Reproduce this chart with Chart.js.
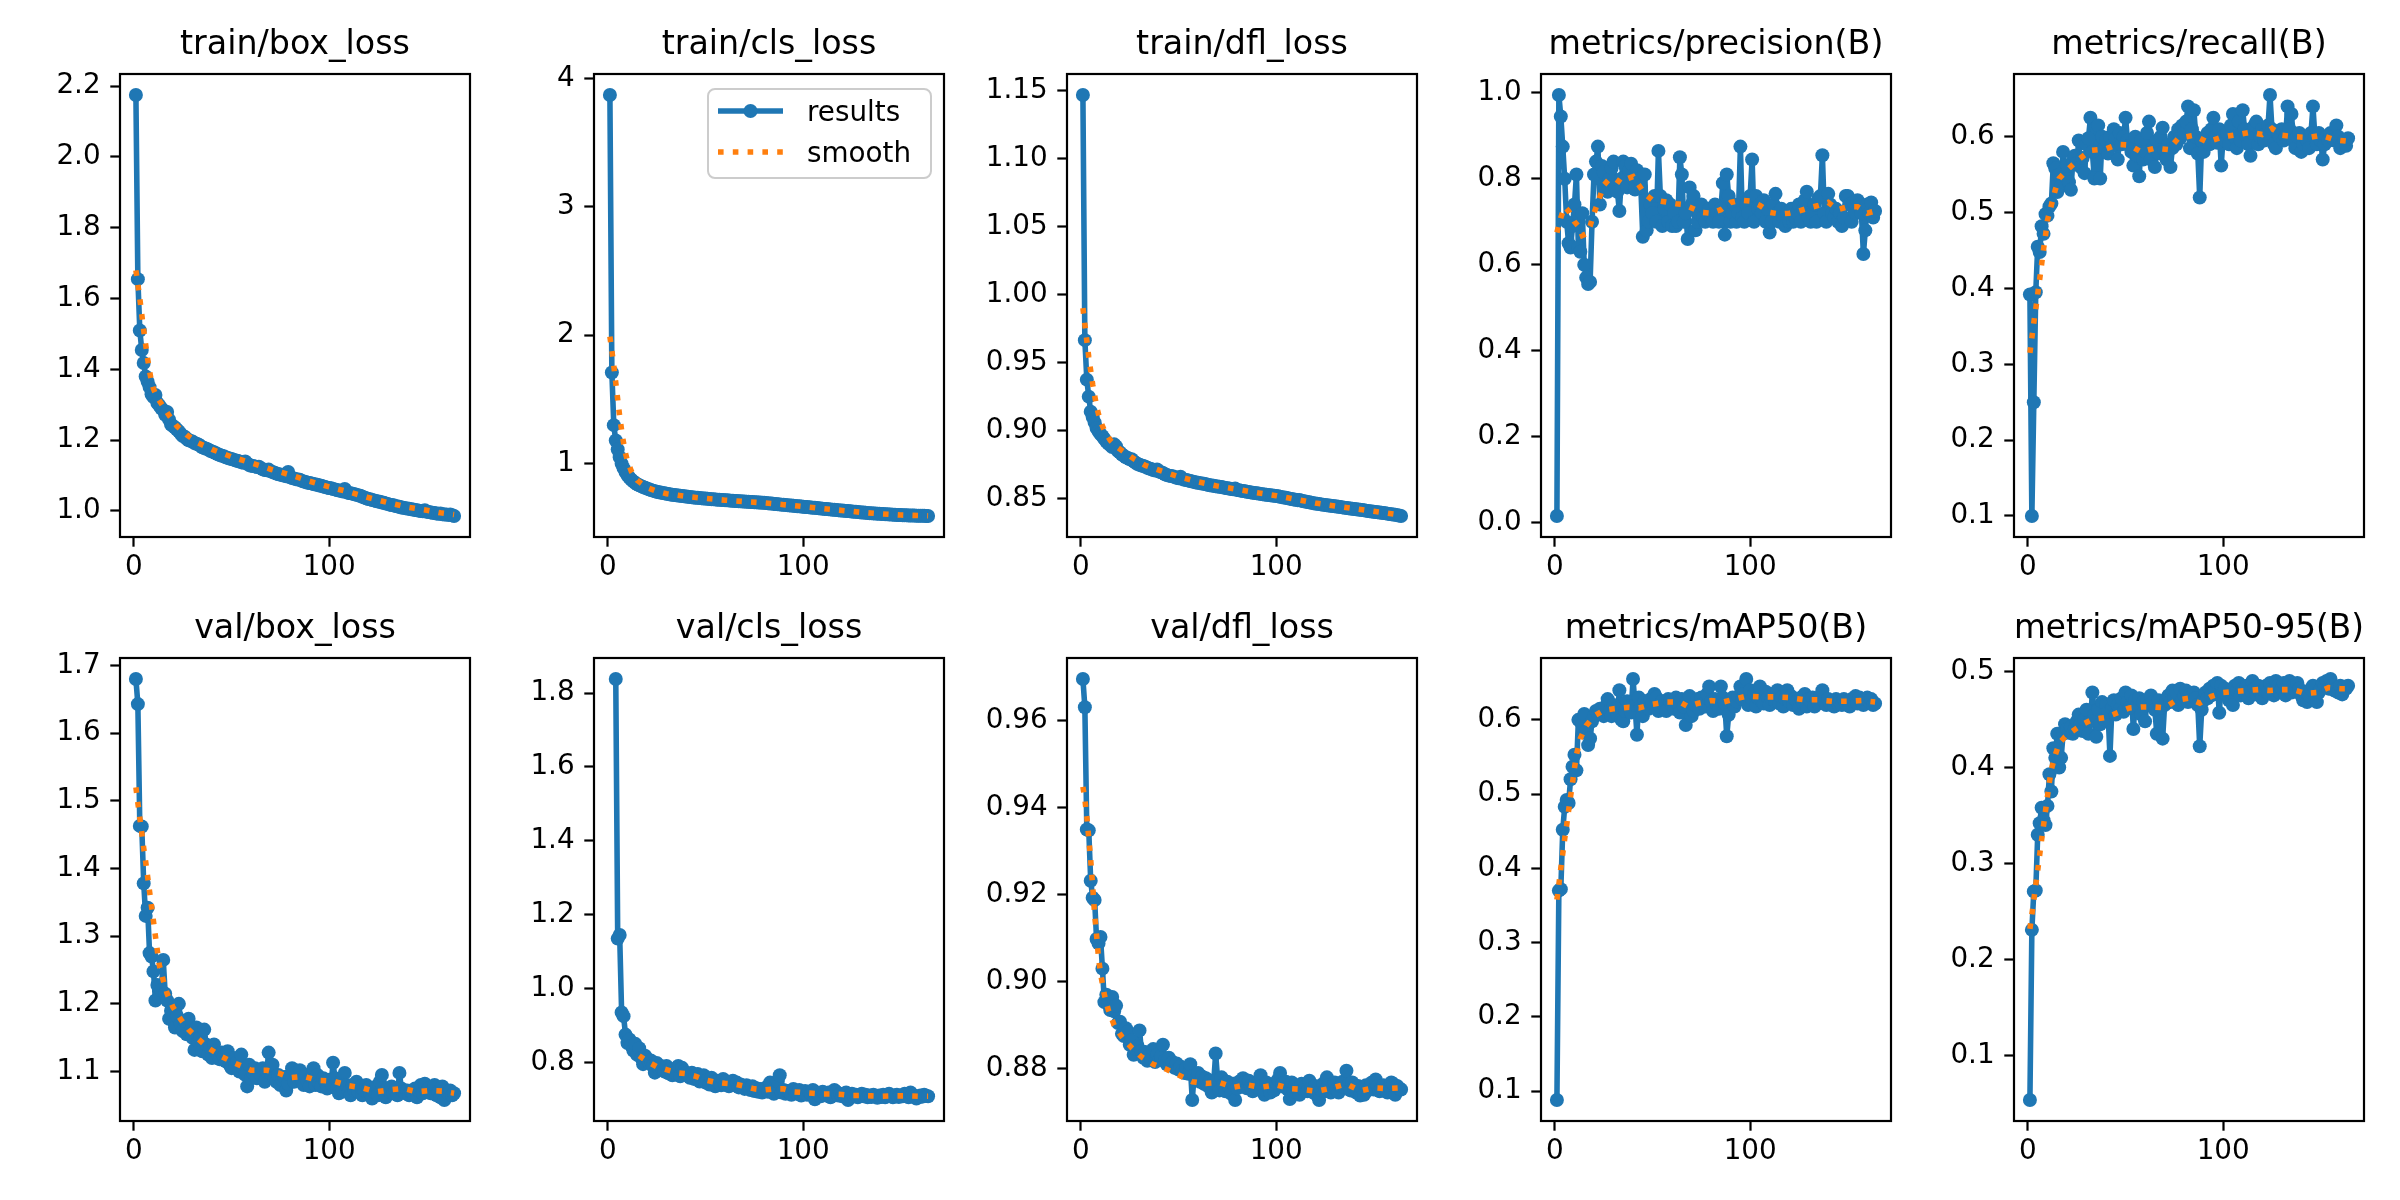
<!DOCTYPE html>
<html>
<head>
<meta charset="utf-8">
<script src="https://cdn.jsdelivr.net/npm/chart.js@4.4.1/dist/chart.umd.min.js"></script>
<style>
  body { margin: 0; background: #fff; width: 2400px; height: 1200px; position: relative; overflow: hidden; }
  canvas { position: absolute; }
  #legend {
    position: absolute; left: 707px; top: 88px; width: 225px; height: 91px; box-sizing: border-box;
    border: 2px solid #ccc; border-radius: 8px; background: rgba(255,255,255,0.8); z-index: 5;
    font-family: 'DejaVu Sans', sans-serif; font-size: 27.8px; color: #000;
  }
  #legend .row { position: absolute; left: 9px; height: 40px; display: flex; align-items: center; }
  #legend .row span { margin-left: 24px; }
</style>
</head>
<body>
<div id="legend">
  <div class="row" style="top:1px"><svg width="65" height="20"><line x1="0" y1="10" x2="65" y2="10" stroke="#1f77b4" stroke-width="5.6"/><circle cx="32.5" cy="10" r="7" fill="#1f77b4"/></svg><span>results</span></div>
  <div class="row" style="top:42px"><svg width="65" height="20"><line x1="0" y1="10" x2="65" y2="10" stroke="#ff7f0e" stroke-width="5.6" stroke-dasharray="5.6 9.2"/></svg><span>smooth</span></div>
</div>
<script>
// epochs 1..164, one value per epoch
const trainBox = [2.175,1.655,1.510,1.455,1.418,1.380,1.365,1.350,1.330,1.322,
  1.328,1.305,1.298,1.290,1.285,1.272,1.280,1.258,1.244,1.240,
  1.236,1.230,1.225,1.218,1.212,1.210,1.204,1.200,1.198,1.196,
  1.192,1.190,1.188,1.184,1.180,1.178,1.176,1.174,1.170,1.168,
  1.166,1.163,1.160,1.158,1.156,1.155,1.152,1.150,1.148,1.147,
  1.145,1.143,1.142,1.140,1.138,1.136,1.140,1.134,1.130,1.128,
  1.127,1.126,1.124,1.125,1.121,1.118,1.116,1.115,1.117,1.112,
  1.110,1.108,1.106,1.104,1.103,1.101,1.100,1.098,1.110,1.095,
  1.093,1.092,1.090,1.089,1.088,1.085,1.083,1.082,1.080,1.079,
  1.078,1.076,1.075,1.074,1.072,1.071,1.069,1.068,1.066,1.065,
  1.064,1.062,1.061,1.059,1.058,1.057,1.055,1.062,1.053,1.051,
  1.050,1.049,1.047,1.046,1.044,1.043,1.040,1.038,1.036,1.034,
  1.033,1.031,1.030,1.028,1.027,1.026,1.024,1.023,1.021,1.020,
  1.018,1.017,1.016,1.014,1.013,1.012,1.010,1.009,1.008,1.007,
  1.006,1.005,1.004,1.003,1.002,1.001,1.000,0.999,1.002,0.998,
  0.997,0.996,0.995,0.994,0.993,0.992,0.993,0.991,0.990,0.990,
  0.989,0.990,0.988,0.986];
const trainBoxSmooth = [[1,1.68],[2,1.64],[3,1.60],[4,1.555],[5,1.51],[6,1.47],[7,1.43],[8,1.395],[9,1.365],[10,1.345],
  [12,1.32],[15,1.295],[18,1.27],[22,1.24],[27,1.215],[33,1.192],[40,1.174],[50,1.153],[60,1.136],[70,1.118],
  [80,1.102],[90,1.084],[100,1.068],[110,1.054],[120,1.038],[130,1.024],[140,1.011],[150,1.002],[157,0.995],[164,0.990]];
const trainBoxTicks = ['1.0','1.2','1.4','1.6','1.8','2.0','2.2'];

const trainCls = [3.870,1.710,1.300,1.180,1.110,1.050,1.000,0.965,0.935,0.910,
  0.890,0.875,0.862,0.850,0.840,0.832,0.825,0.818,0.812,0.806,
  0.800,0.795,0.790,0.786,0.782,0.778,0.775,0.772,0.769,0.766,
  0.763,0.760,0.758,0.756,0.754,0.752,0.750,0.748,0.746,0.744,
  0.742,0.740,0.739,0.737,0.735,0.734,0.732,0.731,0.729,0.728,
  0.727,0.725,0.724,0.723,0.722,0.720,0.719,0.718,0.717,0.716,
  0.715,0.714,0.712,0.711,0.710,0.709,0.708,0.707,0.706,0.705,
  0.704,0.703,0.702,0.701,0.700,0.699,0.698,0.697,0.696,0.695,
  0.693,0.692,0.690,0.689,0.687,0.686,0.684,0.683,0.681,0.680,
  0.678,0.677,0.675,0.674,0.672,0.671,0.669,0.668,0.666,0.665,
  0.663,0.662,0.660,0.659,0.657,0.656,0.654,0.653,0.651,0.650,
  0.648,0.647,0.645,0.644,0.642,0.641,0.639,0.638,0.636,0.635,
  0.634,0.632,0.631,0.629,0.628,0.626,0.625,0.623,0.622,0.620,
  0.619,0.618,0.616,0.615,0.614,0.613,0.612,0.611,0.610,0.609,
  0.608,0.607,0.606,0.605,0.604,0.603,0.602,0.601,0.600,0.600,
  0.599,0.598,0.598,0.597,0.597,0.596,0.596,0.595,0.595,0.594,
  0.594,0.594,0.593,0.593];
const trainClsSmooth = [[1,1.99],[2,1.88],[3,1.76],[4,1.63],[5,1.50],[6,1.37],[7,1.26],[8,1.16],[9,1.08],[10,1.02],
  [12,0.94],[15,0.87],[20,0.815],[25,0.785],[30,0.766],[40,0.745],[50,0.729],[60,0.716],[70,0.705],[80,0.695],
  [90,0.681],[100,0.666],[110,0.651],[120,0.636],[130,0.621],[140,0.609],[150,0.600],[164,0.594]];
const trainClsTicks = ['1','2','3','4'];

const trainDfl = [1.1465,0.9665,0.9375,0.9250,0.9140,0.9100,0.9060,0.9020,0.8995,0.8975,
  0.8960,0.8940,0.8920,0.8905,0.8895,0.8880,0.8900,0.8885,0.8850,0.8840,
  0.8825,0.8815,0.8805,0.8800,0.8790,0.8790,0.8775,0.8765,0.8755,0.8750,
  0.8745,0.8740,0.8735,0.8728,0.8722,0.8718,0.8712,0.8708,0.8715,0.8700,
  0.8695,0.8690,0.8680,0.8675,0.8670,0.8668,0.8665,0.8660,0.8655,0.8650,
  0.8662,0.8645,0.8640,0.8638,0.8634,0.8630,0.8627,0.8624,0.8620,0.8618,
  0.8615,0.8612,0.8610,0.8606,0.8603,0.8600,0.8598,0.8595,0.8592,0.8590,
  0.8588,0.8586,0.8583,0.8580,0.8578,0.8575,0.8572,0.8570,0.8575,0.8565,
  0.8562,0.8560,0.8557,0.8555,0.8552,0.8550,0.8547,0.8545,0.8542,0.8540,
  0.8538,0.8536,0.8534,0.8532,0.8530,0.8528,0.8526,0.8524,0.8522,0.8520,
  0.8518,0.8515,0.8512,0.8510,0.8507,0.8504,0.8501,0.8498,0.8495,0.8493,
  0.8490,0.8492,0.8485,0.8482,0.8480,0.8477,0.8474,0.8471,0.8468,0.8466,
  0.8463,0.8461,0.8459,0.8457,0.8455,0.8453,0.8451,0.8449,0.8447,0.8445,
  0.8443,0.8441,0.8439,0.8437,0.8435,0.8433,0.8431,0.8429,0.8427,0.8425,
  0.8423,0.8421,0.8419,0.8417,0.8415,0.8413,0.8411,0.8409,0.8407,0.8405,
  0.8403,0.8401,0.8399,0.8397,0.8395,0.8393,0.8391,0.8389,0.8387,0.8385,
  0.8382,0.8380,0.8377,0.8374];
const trainDflSmooth = [[1,0.990],[2,0.978],[3,0.966],[4,0.954],[5,0.944],[6,0.934],[7,0.926],[8,0.918],[9,0.912],[10,0.907],
  [12,0.900],[15,0.893],[18,0.8885],[22,0.8845],[27,0.8795],[33,0.8745],[40,0.8710],[50,0.8663],[60,0.8625],[70,0.8593],
  [80,0.8570],[90,0.8545],[100,0.8523],[110,0.8496],[120,0.8469],[130,0.8448],[140,0.8428],[150,0.8408],[160,0.8388],[164,0.8380]];
const trainDflTicks = ['0.85','0.90','0.95','1.00','1.05','1.10','1.15'];

const precision = [0.015,0.995,0.945,0.875,0.800,0.700,0.650,0.640,0.690,0.740,
  0.810,0.640,0.630,0.720,0.600,0.570,0.555,0.560,0.700,0.810,
  0.840,0.875,0.740,0.830,0.815,0.780,0.770,0.800,0.825,0.840,
  0.780,0.770,0.725,0.800,0.840,0.830,0.780,0.820,0.835,0.800,
  0.775,0.820,0.800,0.780,0.665,0.810,0.680,0.700,0.740,0.720,
  0.760,0.700,0.865,0.760,0.690,0.730,0.750,0.700,0.740,0.690,
  0.720,0.690,0.700,0.850,0.810,0.700,0.720,0.660,0.780,0.740,
  0.760,0.680,0.700,0.720,0.740,0.710,0.700,0.720,0.730,0.710,
  0.700,0.740,0.720,0.700,0.730,0.790,0.670,0.810,0.760,0.700,
  0.720,0.740,0.700,0.720,0.875,0.710,0.700,0.740,0.720,0.760,
  0.845,0.700,0.760,0.730,0.740,0.720,0.750,0.700,0.730,0.675,
  0.700,0.740,0.765,0.720,0.700,0.730,0.710,0.690,0.720,0.700,
  0.730,0.700,0.710,0.720,0.740,0.700,0.730,0.750,0.770,0.710,
  0.700,0.720,0.740,0.700,0.755,0.760,0.855,0.720,0.700,0.765,
  0.740,0.720,0.710,0.730,0.700,0.720,0.690,0.710,0.760,0.760,
  0.740,0.700,0.745,0.720,0.750,0.740,0.720,0.625,0.680,0.740,
  0.720,0.745,0.710,0.725];
const precisionSmooth = [[1,0.675],[3,0.710],[5,0.735],[7,0.725],[10,0.700],[12,0.690],[14,0.668],[16,0.672],[18,0.690],[20,0.720],
  [22,0.745],[25,0.785],[28,0.800],[31,0.800],[34,0.790],[37,0.800],[40,0.805],[43,0.785],[46,0.765],[50,0.750],
  [54,0.748],[58,0.745],[62,0.742],[66,0.740],[70,0.732],[75,0.722],[80,0.720],[85,0.728],[90,0.745],[95,0.750],
  [100,0.748],[105,0.738],[110,0.722],[115,0.718],[120,0.720],[125,0.725],[130,0.732],[135,0.738],[140,0.745],[145,0.728],
  [150,0.735],[155,0.735],[160,0.720],[164,0.725]];
const precisionTicks = ['0.0','0.2','0.4','0.6','0.8','1.0'];

const recall = [0.392,0.100,0.250,0.395,0.455,0.448,0.482,0.472,0.498,0.496,
  0.508,0.512,0.565,0.558,0.527,0.550,0.535,0.580,0.548,0.562,
  0.540,0.530,0.568,0.575,0.565,0.595,0.560,0.572,0.552,0.590,
  0.598,0.625,0.580,0.545,0.612,0.615,0.545,0.600,0.585,0.595,
  0.578,0.600,0.588,0.610,0.598,0.570,0.605,0.590,0.600,0.625,
  0.595,0.588,0.580,0.562,0.600,0.575,0.548,0.595,0.570,0.580,
  0.605,0.620,0.570,0.585,0.560,0.595,0.578,0.600,0.612,0.582,
  0.570,0.590,0.560,0.585,0.600,0.590,0.610,0.598,0.615,0.605,
  0.620,0.640,0.585,0.610,0.635,0.600,0.578,0.520,0.595,0.580,
  0.600,0.605,0.590,0.610,0.625,0.600,0.592,0.610,0.562,0.600,
  0.595,0.605,0.590,0.615,0.630,0.600,0.585,0.620,0.595,0.635,
  0.610,0.600,0.590,0.575,0.605,0.615,0.620,0.590,0.600,0.610,
  0.595,0.605,0.615,0.655,0.610,0.590,0.585,0.605,0.600,0.610,
  0.595,0.600,0.640,0.610,0.630,0.595,0.585,0.600,0.605,0.580,
  0.590,0.600,0.595,0.585,0.605,0.640,0.600,0.590,0.605,0.595,
  0.570,0.590,0.600,0.595,0.605,0.600,0.595,0.615,0.600,0.585,
  0.590,0.595,0.588,0.598];
const recallSmooth = [[1,0.315],[2,0.335],[3,0.355],[4,0.373],[5,0.393],[6,0.412],[7,0.432],[8,0.452],[9,0.470],[10,0.490],
  [12,0.510],[14,0.530],[16,0.545],[20,0.556],[25,0.568],[32,0.582],[40,0.584],[46,0.590],[52,0.589],[58,0.580],
  [65,0.585],[72,0.583],[77,0.598],[85,0.602],[92,0.593],[100,0.600],[108,0.603],[114,0.606],[120,0.603],[125,0.611],
  [130,0.602],[137,0.600],[144,0.599],[150,0.602],[157,0.596],[164,0.594]];
const recallTicks = ['0.1','0.2','0.3','0.4','0.5','0.6'];

const valBox = [1.680,1.643,1.463,1.462,1.378,1.330,1.342,1.275,1.270,1.248,
  1.205,1.228,1.210,1.220,1.265,1.215,1.205,1.178,1.190,1.175,
  1.165,1.182,1.200,1.170,1.160,1.175,1.155,1.178,1.160,1.150,
  1.132,1.165,1.145,1.150,1.130,1.162,1.140,1.125,1.135,1.120,
  1.140,1.130,1.125,1.118,1.128,1.122,1.115,1.130,1.110,1.105,
  1.120,1.108,1.115,1.100,1.125,1.105,1.095,1.078,1.110,1.090,
  1.098,1.105,1.090,1.100,1.095,1.105,1.085,1.100,1.128,1.098,
  1.110,1.090,1.085,1.095,1.080,1.088,1.092,1.072,1.082,1.095,
  1.105,1.085,1.098,1.090,1.102,1.088,1.080,1.095,1.085,1.078,
  1.092,1.105,1.080,1.095,1.082,1.078,1.090,1.085,1.075,1.088,
  1.082,1.113,1.090,1.075,1.068,1.085,1.072,1.098,1.080,1.070,
  1.065,1.080,1.072,1.085,1.070,1.078,1.065,1.072,1.080,1.075,
  1.068,1.060,1.070,1.078,1.065,1.085,1.095,1.070,1.062,1.075,
  1.070,1.078,1.068,1.072,1.065,1.098,1.075,1.070,1.068,1.072,
  1.065,1.070,1.068,1.075,1.062,1.072,1.080,1.068,1.082,1.070,
  1.075,1.068,1.072,1.080,1.065,1.070,1.062,1.078,1.058,1.072,
  1.068,1.072,1.065,1.068];
const valBoxSmooth = [[1,1.520],[2,1.497],[3,1.475],[4,1.453],[5,1.430],[6,1.410],[7,1.388],[8,1.366],[9,1.344],[10,1.322],
  [11,1.300],[12,1.278],[13,1.257],[15,1.235],[17,1.215],[20,1.195],[24,1.177],[28,1.162],[33,1.148],[38,1.135],
  [45,1.122],[52,1.112],[60,1.102],[68,1.102],[74,1.098],[80,1.091],[87,1.093],[94,1.087],[102,1.086],[110,1.079],
  [117,1.076],[124,1.070],[131,1.073],[138,1.075],[145,1.070],[152,1.072],[158,1.071],[164,1.068]];
const valBoxTicks = ['1.1','1.2','1.3','1.4','1.5','1.6','1.7'];

const valCls = [null,null,null,1.838,1.135,1.145,0.935,0.925,0.875,0.852,
  0.862,0.845,0.832,0.850,0.820,0.838,0.812,0.795,0.818,0.810,
  0.800,0.805,0.790,0.772,0.798,0.785,0.790,0.780,0.775,0.790,
  0.770,0.782,0.765,0.775,0.768,0.790,0.762,0.785,0.775,0.770,
  0.765,0.758,0.772,0.755,0.762,0.768,0.748,0.755,0.765,0.745,
  0.752,0.740,0.758,0.745,0.735,0.750,0.742,0.738,0.755,0.740,
  0.748,0.735,0.742,0.750,0.738,0.745,0.732,0.740,0.735,0.728,
  0.738,0.730,0.725,0.735,0.722,0.730,0.720,0.728,0.718,0.725,
  0.732,0.720,0.745,0.722,0.715,0.735,0.748,0.765,0.718,0.725,
  0.715,0.722,0.718,0.712,0.728,0.720,0.715,0.725,0.710,0.718,
  0.722,0.712,0.720,0.715,0.725,0.700,0.718,0.712,0.708,0.720,
  0.715,0.710,0.718,0.705,0.712,0.725,0.720,0.710,0.715,0.708,
  0.712,0.718,0.698,0.710,0.715,0.708,0.712,0.705,0.710,0.715,
  0.708,0.712,0.705,0.710,0.706,0.712,0.708,0.704,0.710,0.706,
  0.712,0.705,0.708,0.715,0.708,0.705,0.710,0.712,0.706,0.710,
  0.708,0.715,0.710,0.705,0.718,0.712,0.708,0.702,0.705,0.710,
  0.707,0.712,0.709,0.708];
const valClsSmooth = [[16,0.818],[20,0.803],[25,0.788],[30,0.780],[35,0.772],[40,0.769],[45,0.762],[50,0.752],[55,0.746],[60,0.743],
  [65,0.741],[70,0.735],[75,0.728],[80,0.725],[85,0.728],[90,0.728],[95,0.720],[100,0.718],[105,0.716],[110,0.714],
  [115,0.714],[120,0.713],[125,0.710],[130,0.710],[135,0.709],[140,0.708],[145,0.709],[150,0.709],[155,0.709],[160,0.708],[164,0.708]];
const valClsTicks = ['0.8','1.0','1.2','1.4','1.6','1.8'];

const valDfl = [0.9696,0.9631,0.9350,0.9348,0.9232,0.9193,0.9188,0.9098,0.9088,0.9103,
  0.9030,0.8953,0.8970,0.8948,0.8935,0.8965,0.8932,0.8945,0.8905,0.8908,
  0.8880,0.8875,0.8893,0.8885,0.8855,0.8865,0.8832,0.8845,0.8852,0.8888,
  0.8840,0.8825,0.8838,0.8818,0.8830,0.8822,0.8845,0.8815,0.8832,0.8820,
  0.8828,0.8855,0.8818,0.8810,0.8825,0.8808,0.8815,0.8802,0.8812,0.8798,
  0.8805,0.8795,0.8790,0.8802,0.8788,0.8810,0.8728,0.8785,0.8775,0.8790,
  0.8770,0.8782,0.8765,0.8778,0.8760,0.8772,0.8745,0.8768,0.8835,0.8775,
  0.8750,0.8780,0.8762,0.8748,0.8770,0.8758,0.8742,0.8765,0.8728,0.8755,
  0.8770,0.8762,0.8778,0.8768,0.8755,0.8772,0.8760,0.8748,0.8765,0.8758,
  0.8770,0.8785,0.8762,0.8740,0.8768,0.8758,0.8745,0.8762,0.8750,0.8768,
  0.8775,0.8790,0.8765,0.8758,0.8770,0.8752,0.8730,0.8768,0.8748,0.8762,
  0.8755,0.8740,0.8765,0.8752,0.8760,0.8748,0.8772,0.8755,0.8745,0.8760,
  0.8738,0.8728,0.8752,0.8765,0.8748,0.8780,0.8762,0.8745,0.8755,0.8768,
  0.8752,0.8745,0.8760,0.8770,0.8758,0.8795,0.8762,0.8750,0.8768,0.8755,
  0.8745,0.8760,0.8738,0.8755,0.8740,0.8762,0.8750,0.8758,0.8768,0.8752,
  0.8775,0.8760,0.8748,0.8755,0.8762,0.8750,0.8745,0.8758,0.8768,0.8765,
  0.8740,0.8760,0.8755,0.8752];
const valDflSmooth = [[1,0.9448],[2,0.9420],[3,0.9380],[4,0.9330],[5,0.9280],[6,0.9220],[7,0.9155],[8,0.9107],[9,0.9055],[10,0.9020],
  [12,0.8970],[14,0.8935],[17,0.8900],[21,0.8873],[26,0.8848],[31,0.8827],[37,0.8810],[44,0.8798],[51,0.8783],[57,0.8770],
  [64,0.8766],[71,0.8768],[78,0.8757],[85,0.8763],[92,0.8757],[100,0.8763],[107,0.8754],[114,0.8752],[121,0.8748],[129,0.8756],
  [136,0.8765],[143,0.8749],[150,0.8756],[157,0.8754],[164,0.8756]];
const valDflTicks = ['0.88','0.90','0.92','0.94','0.96'];

const map50 = [0.088,0.370,0.372,0.452,0.483,0.492,0.488,0.520,0.537,0.553,
  0.532,0.600,0.598,0.595,0.608,0.585,0.566,0.575,0.598,0.605,
  0.612,0.608,0.615,0.610,0.605,0.618,0.628,0.612,0.605,0.620,
  0.615,0.608,0.640,0.600,0.598,0.612,0.625,0.618,0.610,0.655,
  0.620,0.580,0.630,0.618,0.605,0.625,0.620,0.615,0.628,0.622,
  0.635,0.630,0.612,0.618,0.625,0.620,0.612,0.628,0.625,0.620,
  0.615,0.630,0.622,0.610,0.628,0.618,0.593,0.625,0.632,0.605,
  0.612,0.620,0.628,0.615,0.630,0.622,0.618,0.635,0.645,0.625,
  0.612,0.628,0.620,0.615,0.645,0.630,0.622,0.578,0.607,0.625,
  0.630,0.618,0.625,0.632,0.645,0.628,0.635,0.655,0.620,0.640,
  0.628,0.635,0.618,0.630,0.645,0.625,0.622,0.638,0.630,0.620,
  0.628,0.635,0.625,0.640,0.622,0.630,0.618,0.628,0.640,0.625,
  0.632,0.620,0.628,0.625,0.615,0.630,0.622,0.635,0.618,0.628,
  0.625,0.630,0.618,0.628,0.622,0.632,0.640,0.625,0.620,0.628,
  0.622,0.625,0.618,0.628,0.622,0.625,0.620,0.628,0.622,0.625,
  0.618,0.628,0.625,0.632,0.622,0.630,0.625,0.620,0.628,0.630,
  0.625,0.628,0.620,0.622];
const map50Smooth = [[1,0.358],[2,0.378],[3,0.400],[4,0.420],[5,0.440],[6,0.458],[7,0.478],[8,0.497],[9,0.515],[10,0.535],
  [11,0.553],[13,0.575],[16,0.592],[20,0.605],[25,0.613],[30,0.615],[38,0.617],[43,0.616],[50,0.621],[57,0.624],
  [64,0.624],[68,0.618],[73,0.622],[80,0.626],[86,0.624],[92,0.628],[98,0.632],[105,0.631],[112,0.631],[120,0.630],
  [128,0.627],[135,0.627],[142,0.625],[150,0.625],[157,0.626],[164,0.624]];
const map50Ticks = ['0.1','0.2','0.3','0.4','0.5','0.6'];

const map5095 = [0.054,0.231,0.271,0.272,0.330,0.342,0.358,0.345,0.340,0.360,
  0.393,0.375,0.420,0.410,0.435,0.400,0.410,0.435,0.445,0.440,
  0.436,0.442,0.435,0.440,0.448,0.455,0.445,0.438,0.450,0.460,
  0.435,0.448,0.478,0.455,0.432,0.460,0.445,0.468,0.450,0.465,
  0.458,0.412,0.462,0.470,0.455,0.465,0.460,0.472,0.458,0.478,
  0.468,0.462,0.475,0.440,0.470,0.465,0.472,0.455,0.468,0.448,
  0.470,0.465,0.475,0.468,0.460,0.435,0.470,0.462,0.430,0.465,
  0.470,0.475,0.468,0.480,0.472,0.478,0.465,0.482,0.470,0.475,
  0.480,0.468,0.475,0.470,0.478,0.472,0.465,0.422,0.460,0.470,
  0.478,0.472,0.482,0.475,0.485,0.480,0.488,0.457,0.485,0.478,
  0.482,0.475,0.470,0.478,0.465,0.485,0.480,0.488,0.475,0.482,
  0.478,0.485,0.472,0.480,0.490,0.482,0.476,0.485,0.478,0.472,
  0.480,0.485,0.478,0.488,0.482,0.475,0.490,0.485,0.478,0.482,
  0.488,0.475,0.482,0.490,0.478,0.485,0.480,0.488,0.482,0.475,
  0.470,0.478,0.468,0.475,0.482,0.485,0.470,0.468,0.478,0.482,
  0.488,0.485,0.490,0.482,0.492,0.485,0.480,0.482,0.478,0.485,
  0.476,0.484,0.482,0.485];
const map5095Smooth = [[1,0.232],[2,0.247],[3,0.262],[4,0.278],[5,0.293],[6,0.309],[7,0.325],[8,0.340],[9,0.355],[10,0.370],
  [11,0.385],[12,0.398],[14,0.413],[16,0.425],[19,0.432],[23,0.438],[28,0.445],[33,0.450],[40,0.452],[46,0.457],
  [52,0.462],[58,0.463],[64,0.463],[70,0.462],[76,0.470],[82,0.472],[88,0.467],[94,0.474],[100,0.478],[106,0.479],
  [112,0.480],[118,0.481],[124,0.480],[130,0.481],[136,0.481],[142,0.477],[148,0.478],[154,0.483],[160,0.482],[164,0.482]];
const map5095Ticks = ['0.1','0.2','0.3','0.4','0.5'];

const xTicks = ['0', '100'];

const panels = [
  { title: 'train/box_loss', values: trainBox, smooth: trainBoxSmooth, ticks: trainBoxTicks },
  { title: 'train/cls_loss', values: trainCls, smooth: trainClsSmooth, ticks: trainClsTicks },
  { title: 'train/dfl_loss', values: trainDfl, smooth: trainDflSmooth, ticks: trainDflTicks },
  { title: 'metrics/precision(B)', values: precision, smooth: precisionSmooth, ticks: precisionTicks },
  { title: 'metrics/recall(B)', values: recall, smooth: recallSmooth, ticks: recallTicks },
  { title: 'val/box_loss', values: valBox, smooth: valBoxSmooth, ticks: valBoxTicks },
  { title: 'val/cls_loss', values: valCls, smooth: valClsSmooth, ticks: valClsTicks },
  { title: 'val/dfl_loss', values: valDfl, smooth: valDflSmooth, ticks: valDflTicks },
  { title: 'metrics/mAP50(B)', values: map50, smooth: map50Smooth, ticks: map50Ticks },
  { title: 'metrics/mAP50-95(B)', values: map5095, smooth: map5095Smooth, ticks: map5095Ticks }
];

// layout (px)
const BOX_LEFT = [120, 594, 1067, 1541, 2014];
const BOX_TOP = [74, 658];
const BOX_W = 353, BOX_H = 463;
const Y_AXIS_W = 110, TITLE_H = 74, X_AXIS_H = 64, RIGHT_PAD = 4;
const FONT = 'DejaVu Sans';

const framePlugin = {
  id: 'frame',
  afterDraw(chart) {
    const { ctx, chartArea: a } = chart;
    ctx.save();
    ctx.strokeStyle = '#000';
    ctx.lineWidth = 2.2;
    ctx.strokeRect(a.left, a.top, a.right - a.left, a.bottom - a.top);
    ctx.restore();
  }
};

panels.forEach((p, i) => {
  const col = i % 5, row = Math.floor(i / 5);
  const canvas = document.createElement('canvas');
  canvas.width = Y_AXIS_W + BOX_W + RIGHT_PAD;
  canvas.height = TITLE_H + BOX_H + X_AXIS_H;
  canvas.style.left = (BOX_LEFT[col] - Y_AXIS_W) + 'px';
  canvas.style.top = (BOX_TOP[row] - TITLE_H) + 'px';
  document.body.appendChild(canvas);

  const pts = p.values.map((v, k) => ({ x: k + 1, y: v })).filter(d => d.y !== null);
  const sm = p.smooth.map(d => ({ x: d[0], y: d[1] }));

  // matplotlib-like autoscale with 5% margins
  const ys = pts.map(d => d.y).concat(sm.map(d => d.y));
  const lo = Math.min(...ys), hi = Math.max(...ys), m = (hi - lo) * 0.05;
  const xm = (p.values.length - 1) * 0.05;

  const tickFont = { family: FONT, size: 27.8 };

  new Chart(canvas, {
    type: 'line',
    data: {
      datasets: [
        { label: 'smooth', data: sm, borderColor: '#ff7f0e', borderWidth: 5.56, borderDash: [5.56, 9.17],
          borderCapStyle: 'butt', pointRadius: 0, fill: false, tension: 0 },
        { label: 'results', data: pts, borderColor: '#1f77b4', backgroundColor: '#1f77b4', borderWidth: 5.56,
          borderJoinStyle: 'round', borderCapStyle: 'round', pointRadius: 7, pointBorderWidth: 0,
          pointBackgroundColor: '#1f77b4', fill: false, tension: 0 }
      ]
    },
    options: {
      responsive: false,
      animation: false,
      layout: { padding: { left: 0, right: RIGHT_PAD, top: 0, bottom: 0 } },
      plugins: {
        legend: { display: false },
        tooltip: { enabled: false },
        title: { display: true, text: p.title, color: '#000', fullSize: false,
          font: { family: FONT, size: 33.3, weight: 'normal', lineHeight: 1.2 },
          padding: { top: TITLE_H - 8.2 - 39.96, bottom: 8.2 } }
      },
      scales: {
        x: {
          type: 'linear', min: 1 - xm, max: p.values.length + xm,
          afterBuildTicks: s => { s.ticks = xTicks.map(t => ({ value: parseFloat(t) })); },
          afterFit: s => { s.height = X_AXIS_H; },
          grid: { drawOnChartArea: false, drawTicks: true, tickLength: 9.7, tickWidth: 2.2, tickColor: '#000' },
          border: { display: false },
          ticks: { font: tickFont, color: '#000', padding: 4.3, maxRotation: 0, autoSkip: false,
            callback: (v, k) => xTicks[k] }
        },
        y: {
          type: 'linear', min: lo - m, max: hi + m,
          afterBuildTicks: s => { s.ticks = p.ticks.map(t => ({ value: parseFloat(t) })); },
          afterFit: s => { s.width = Y_AXIS_W; },
          grid: { drawOnChartArea: false, drawTicks: true, tickLength: 9.7, tickWidth: 2.2, tickColor: '#000' },
          border: { display: false },
          ticks: { font: tickFont, color: '#000', padding: 9.7, autoSkip: false,
            callback: (v, k) => p.ticks[k] }
        }
      }
    },
    plugins: [framePlugin]
  });
});
</script>
</body>
</html>
